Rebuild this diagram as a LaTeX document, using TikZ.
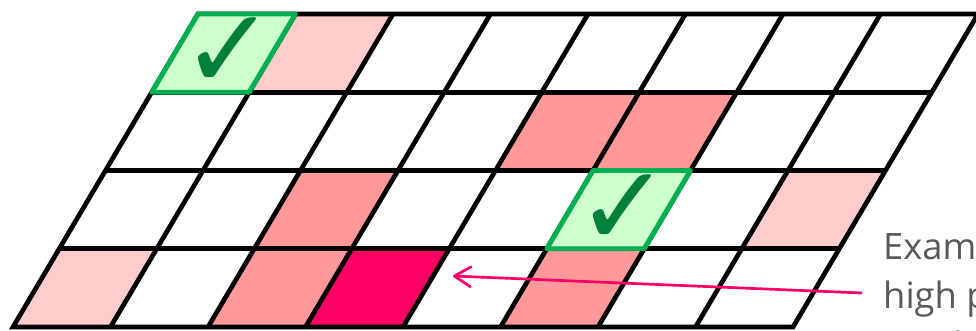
\documentclass[tikz,border=0pt]{standalone}
\usepackage{fontspec}
\setmainfont{Open Sans}
\newfontfamily\markfont{DejaVu Sans}[BoldFont={DejaVu Sans Bold}]
\usetikzlibrary{arrows.meta}
\definecolor{cellpale}{HTML}{FFCCCC}
\definecolor{cellmid}{HTML}{FF9999}
\definecolor{cellhot}{HTML}{FF0066}
\definecolor{okfill}{HTML}{CCFFCC}
\definecolor{okline}{HTML}{00B050}
\definecolor{okmark}{HTML}{00803A}
\definecolor{notegray}{HTML}{595959}

\begin{document}
\begin{tikzpicture}[x=0.03cm,y=0.03cm,
    gridline/.style={line width=4pt},
    okcell/.style={fill=okfill,draw=okline,line width=4.2pt,line join=round},
    tick/.style={text=okmark,font=\markfont\bfseries\fontsize{96}{96}\selectfont,inner sep=0pt},
    note/.style={text=notegray,font=\fontsize{31}{42}\selectfont,align=left,inner sep=0pt},
    pointer/.style={draw=cellhot,line width=2.3pt,
                    -{Straight Barb[length=14pt,width=17pt,round]}}]
  \useasboundingbox (0,0) rectangle (976,330);
  \begin{scope}[shift={(13,3)},y={(46.25,78.25)},x={(97.5,0)}]
    % coloured cells
    \foreach \c/\r/\shade in {1/3/cellpale,4/2/cellmid,5/2/cellmid,2/1/cellmid,
        7/1/cellpale,0/0/cellpale,2/0/cellmid,3/0/cellhot,5/0/cellmid}
      \fill[\shade] (\c,\r) -- ++(1,0) -- ++(0,1) -- ++(-1,0) -- cycle;
    % grid
    \foreach \r in {1,2,3}
      \draw[gridline] (0,\r) -- (8,\r);
    \foreach \c in {1,...,7}
      \draw[gridline] (\c,0) -- (\c,4);
    \draw[gridline] (0,0) -- (8,0) -- (8,4) -- (0,4) -- cycle;
    % accepted cells
    \draw[okcell] (0,3) -- ++(1,0) -- ++(0,1) -- ++(-1,0) -- cycle;
    \draw[okcell] (5,1) -- ++(1,0) -- ++(0,1) -- ++(-1,0) -- cycle;
    \node[tick] (tickA) at (0.55,3.5) {✓};
    \node[tick] (tickB) at (5.55,1.5) {✓};
  \end{scope}
  \node[note,anchor=base west] (note) at (883,-28) {Example\\high priority\\pixel};
  \coordinate (tail) at (862,37);
  \coordinate (tip) at (453,54);
  \draw[pointer] (tail) -- (tip);
\end{tikzpicture}
\end{document}
